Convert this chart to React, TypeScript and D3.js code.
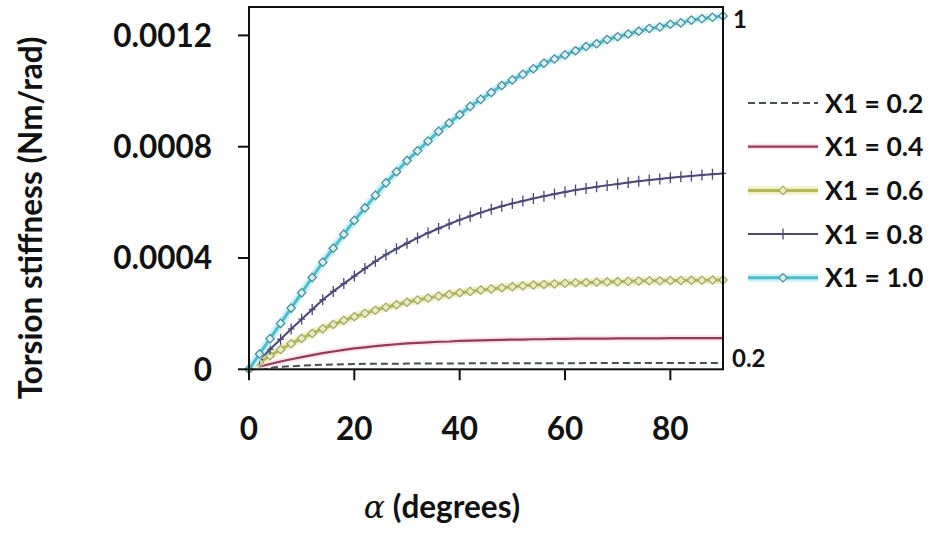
import React from "react";
import * as d3 from "d3";

const ANGLES = [0,2,4,6,8,10,12,14,16,18,20,22,24,26,28,30,32,34,36,38,40,42,44,46,48,50,52,54,56,58,60,62,64,66,68,70,72,74,76,78,80,82,84,86,88,90];

const S02 = [0,0.03,0.06,0.09,0.11,0.13,0.15,0.16,0.17,0.18,0.19,0.195,0.2,0.2,0.2,0.205,0.205,0.21,0.21,0.21,0.21,0.215,0.215,0.215,0.215,0.22,0.22,0.22,0.22,0.22,0.22,0.22,0.225,0.225,0.225,0.225,0.225,0.225,0.23,0.23,0.23,0.23,0.23,0.23,0.23,0.23].map(v => v * 1e-4);
const S04 = [0,0.1,0.19,0.28,0.36,0.44,0.51,0.58,0.64,0.7,0.75,0.79,0.83,0.87,0.9,0.93,0.95,0.97,0.99,1.0,1.02,1.03,1.04,1.05,1.06,1.07,1.07,1.08,1.08,1.09,1.09,1.1,1.1,1.1,1.1,1.11,1.11,1.11,1.11,1.11,1.12,1.12,1.12,1.12,1.12,1.12].map(v => v * 1e-4);
const S06 = [0,0.25,0.49,0.71,0.92,1.11,1.29,1.46,1.61,1.76,1.89,2.01,2.12,2.23,2.32,2.41,2.49,2.56,2.63,2.69,2.75,2.8,2.85,2.89,2.93,2.97,3.0,3.03,3.05,3.07,3.09,3.11,3.12,3.13,3.14,3.15,3.16,3.17,3.18,3.18,3.19,3.19,3.2,3.2,3.21,3.21].map(v => v * 1e-4);
const S08 = [0,0.36,0.72,1.08,1.45,1.8,2.15,2.5,2.8,3.08,3.35,3.62,3.88,4.12,4.33,4.53,4.72,4.9,5.06,5.22,5.37,5.5,5.63,5.75,5.86,5.96,6.05,6.14,6.22,6.3,6.37,6.44,6.5,6.56,6.61,6.66,6.71,6.76,6.8,6.84,6.88,6.92,6.95,6.98,7.01,7.04].map(v => v * 1e-4);
const S10 = [0,0.55,1.1,1.65,2.2,2.75,3.3,3.85,4.35,4.85,5.35,5.8,6.25,6.7,7.1,7.5,7.85,8.2,8.55,8.85,9.15,9.45,9.7,9.95,10.2,10.4,10.6,10.8,11.0,11.15,11.3,11.45,11.6,11.7,11.85,11.95,12.05,12.15,12.25,12.3,12.4,12.45,12.55,12.6,12.65,12.7].map(v => v * 1e-4);

const LEGEND_LABELS = ["X1 = 0.2", "X1 = 0.4", "X1 = 0.6", "X1 = 0.8", "X1 = 1.0"];
const X_TICKS = [0, 20, 40, 60, 80];
const Y_TICKS = [0, 0.0004, 0.0008, 0.0012];
const Y_TICK_LABELS = ["0", "0.0004", "0.0008", "0.0012"];
const X_TITLE = "(degrees)";
const Y_TITLE = "Torsion stiffness (Nm/rad)";

type Series = {
  values: number[];
  color: string;
  halo?: string;
  haloWidth?: number;
  width: number;
  dash?: string;
  marker?: "diamond" | "plus";
  markerStroke?: string;
  markerFill?: string;
};

const SERIES: Series[] = [
  { values: S02, color: "#454f55", width: 2, dash: "7,4" },
  { values: S04, color: "#98395a", halo: "#f8e6ec", haloWidth: 6, width: 2.2 },
  { values: S06, color: "#b3b85a", halo: "#eef0c2", haloWidth: 8, width: 3, marker: "diamond", markerStroke: "#a4a866", markerFill: "#e9ebc4" },
  { values: S08, color: "#4a4878", width: 2, marker: "plus", markerStroke: "#4a4878" },
  { values: S10, color: "#4bbbcd", halo: "#cdf1f6", haloWidth: 8, width: 3, marker: "diamond", markerStroke: "#4d8a94", markerFill: "#d4f4f8" },
];

const FONT = "Lato, 'Open Sans', sans-serif";

function Marker({ kind, x, y, stroke, fill }: { kind: string; x: number; y: number; stroke: string; fill?: string }) {
  if (kind === "diamond") {
    const s = 4.2;
    return (
      <path
        d={`M${x},${y - s}L${x + s},${y}L${x},${y + s}L${x - s},${y}Z`}
        fill={fill || "none"}
        stroke={stroke}
        strokeWidth={1.2}
      />
    );
  }
  const s = 5.5;
  return (
    <path
      d={`M${x},${y - s}V${y + s}M${x - s * 0.6},${y}H${x + s * 0.6}`}
      stroke={stroke}
      strokeWidth={1.3}
      fill="none"
    />
  );
}

export default function App() {
  const left = 249, right = 723, top = 7, bottom = 369.3;
  const x = d3.scaleLinear().domain([0, 90]).range([left, right]);
  const y = d3.scaleLinear().domain([0, 0.0013]).range([bottom, bottom - (0.0013 / 0.0004) * 111.3]);

  const line = d3
    .line<number>()
    .x((_, i) => x(ANGLES[i]))
    .y((v) => y(v));

  const legendY0 = 103;
  const legendStep = 43.7;

  return (
    <svg
      width={930}
      height={533}
      style={{ position: "absolute", left: 0, top: 0, background: "#fff" }}
      fontFamily={FONT}
    >
      <rect x={0} y={0} width={930} height={533} fill="#fff" />

      {SERIES.map((s, si) => (
        <g key={si}>
          {s.halo && (
            <path d={line(s.values) || ""} fill="none" stroke={s.halo} strokeWidth={s.haloWidth} strokeLinejoin="round" />
          )}
          <path
            d={line(s.values) || ""}
            fill="none"
            stroke={s.color}
            strokeWidth={s.width}
            strokeDasharray={s.dash}
            strokeLinejoin="round"
          />
          {s.marker &&
            s.values.map((v, i) => (
              <Marker key={i} kind={s.marker!} x={x(ANGLES[i])} y={y(v)} stroke={s.markerStroke!} fill={s.markerFill} />
            ))}
        </g>
      ))}

      <rect x={left} y={top} width={right - left} height={bottom - top} fill="none" stroke="#111" strokeWidth={2} />

      {Y_TICKS.map((t, i) => (
        <g key={i}>
          <line x1={left - 11} x2={left} y1={y(t)} y2={y(t)} stroke="#111" strokeWidth={2} />
          <text x={212} y={y(t)} dy="0.36em" textAnchor="end" fontSize={31.5} fontWeight={700} fill="#111">
            {Y_TICK_LABELS[i]}
          </text>
        </g>
      ))}

      {X_TICKS.map((t, i) => (
        <g key={i}>
          <line x1={x(t)} x2={x(t)} y1={bottom} y2={bottom + 11} stroke="#111" strokeWidth={2} />
          <text x={x(t)} y={440} textAnchor="middle" fontSize={31.5} fontWeight={700} fill="#111">
            {t}
          </text>
        </g>
      ))}

      <text x={442} y={518} textAnchor="middle" fontSize={31.5} fontWeight={700} fill="#111">
        <tspan fontFamily="'DejaVu Serif', serif" fontStyle="italic" fontWeight={400}>α</tspan>
        <tspan> {X_TITLE}</tspan>
      </text>
      <text
        transform={`translate(42,218) rotate(-90)`}
        textAnchor="middle"
        fontSize={31.5}
        fontWeight={700}
        fill="#111"
      >
        {Y_TITLE}
      </text>

      <text x={733} y={28} fontSize={24} fontWeight={700} fill="#111">1</text>
      <text x={732} y={367} fontSize={24} fontWeight={700} fill="#111">0.2</text>

      {SERIES.map((s, i) => {
        const ly = legendY0 + i * legendStep;
        return (
          <g key={i}>
            {s.halo && <line x1={748} x2={818} y1={ly} y2={ly} stroke={s.halo} strokeWidth={s.haloWidth} />}
            <line x1={748} x2={818} y1={ly} y2={ly} stroke={s.color} strokeWidth={s.width} strokeDasharray={s.dash} />
            {s.marker && <Marker kind={s.marker} x={783} y={ly} stroke={s.markerStroke!} fill={s.markerFill} />}
            <text x={825} y={ly} dy="0.36em" fontSize={26.5} fontWeight={700} fill="#111">
              {LEGEND_LABELS[i]}
            </text>
          </g>
        );
      })}
    </svg>
  );
}
